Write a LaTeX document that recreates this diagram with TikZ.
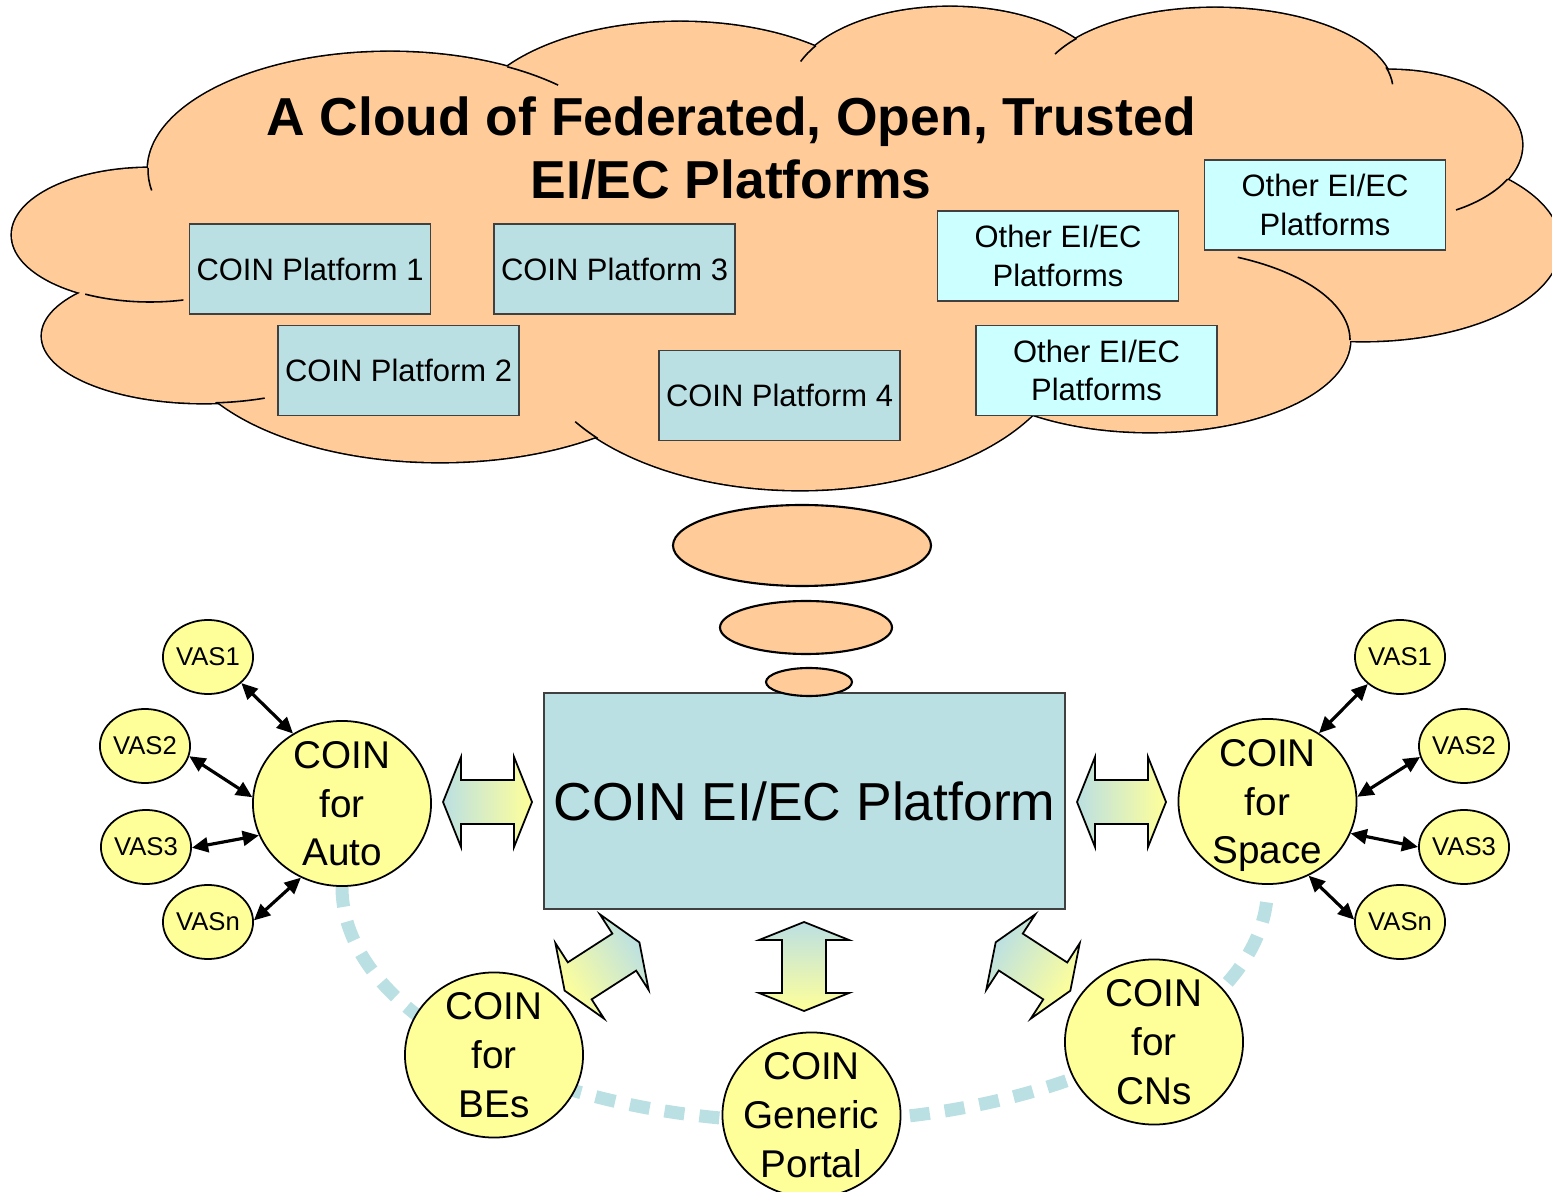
\documentclass[tikz,border=0pt]{standalone}
\usepackage{fontspec}
\setmainfont{Liberation Sans}
\usetikzlibrary{shapes.geometric,arrows.meta,backgrounds}

\definecolor{cloudorange}{HTML}{FFCC99}
\definecolor{coinblue}{HTML}{BBE0E3}
\definecolor{othercyan}{HTML}{CCFFFF}
\definecolor{coinyellow}{HTML}{FFFF99}

% 雲の円弧 (cx/cy/rx/ry)
\newcommand\cloudlobes{390/170/242/118, 680/130/213/108, 950/92/160/85,
  1215/90/178/82, 1390/145/132/75, 1363/245/197/96, 1150/340/200/92,
  800/340/268/150, 440/330/265/132, 204/336/162/67, 150/235/138/67}

\begin{document}
\begin{tikzpicture}[x=0.01cm, y=-0.01cm,
  lobe/.style={draw=black, line width=0.9pt},
  platbox/.style={draw=black!75, line width=0.5pt, fill=coinblue,
    minimum width=2.41cm, minimum height=0.9cm, inner sep=1pt,
    font=\fontsize{8.8}{11}\selectfont, align=center},
  otherbox/.style={platbox, fill=othercyan},
  vas/.style={ellipse, draw, line width=0.5pt, fill=coinyellow,
    minimum width=0.9cm, minimum height=0.74cm, inner sep=0pt,
    font=\fontsize{7.3}{9}\selectfont},
  coinball/.style={ellipse, draw, line width=0.5pt, fill=coinyellow,
    minimum width=1.78cm, minimum height=1.65cm, inner sep=0pt},
  coinlabel/.style={align=center, font=\fontsize{11}{13.9}\selectfont, inner sep=0pt,
    text depth=0pt},
  vasarrow/.style={{Triangle[length=4.6pt,width=4.2pt]}-{Triangle[length=4.6pt,width=4.2pt]},
    line width=0.9pt},
  dblarrowshape/.style={insert path={(-44.5,0) -- (-26.5,45) -- (-26.5,22) -- (26.5,22)
    -- (26.5,45) -- (44.5,0) -- (26.5,-45) -- (26.5,-22) -- (-26.5,-22) -- (-26.5,-45) -- cycle}},
  bigarrow/.style={draw=black, line width=0.5pt, left color=coinblue, right color=coinyellow},
  dasharc/.style={coinblue, line width=3.7pt, dash pattern=on 5.7pt off 4.3pt}
]
  \useasboundingbox (0,0) rectangle (1552,1192);

  % 雲
  \foreach \cx/\cy/\rx/\ry in \cloudlobes {
    \draw[lobe] (\cx,\cy) ellipse [x radius=\rx, y radius=\ry];
  }
  \foreach \cx/\cy/\rx/\ry in \cloudlobes {
    \fill[cloudorange] (\cx,\cy) ellipse [x radius=\rx, y radius=\ry];
  }
  \fill[cloudorange] (390,170) -- (680,130) -- (950,92) -- (1215,90) -- (1390,145)
    -- (1363,245) -- (1150,340) -- (800,340) -- (440,330) -- (204,336) -- (150,235) -- cycle;

  % 雲の折り目
  \foreach \cx/\cy/\rx/\ry/\ta/\tb in {390/170/242/118/181/170, 390/170/242/118/-61/-46,
      950/92/160/85/213/201, 1215/90/178/82/219/206, 1215/90/178/82/-16/-4,
      1390/145/132/75/27/60, 1150/340/200/92/0/-64, 800/340/268/150/139/147,
      204/336/162/67/86/68, 150/235/138/67/118/76} {
    \draw[line width=0.45pt] ({\cx+\rx*cos(\ta)},{\cy+\ry*sin(\ta)})
      arc[start angle=\ta, end angle=\tb, x radius=\rx, y radius=\ry];
  }

  % タイトル
  \node[font=\fontsize{15.2}{17.9}\selectfont\bfseries, align=center, anchor=north,
    inner sep=0pt] (title) at (731,96) {A Cloud of Federated, Open, Trusted\\EI/EC Platforms};

  % 雲の中のプラットフォーム
  \node[platbox] (p1) at (310,269) {COIN Platform 1};
  \node[platbox] (p2) at (398.5,370.5) {COIN Platform 2};
  \node[platbox] (p3) at (614.5,269) {COIN Platform 3};
  \node[platbox] (p4) at (779.5,395.5) {COIN Platform 4};
  \node[otherbox] (o1) at (1058,256) {Other EI/EC\\Platforms};
  \node[otherbox] (o2) at (1325,205) {Other EI/EC\\Platforms};
  \node[otherbox] (o3) at (1096.5,370.5) {Other EI/EC\\Platforms};

  % 吹き出しの楕円
  \draw[line width=0.6pt, fill=cloudorange] (802,545.5) ellipse [x radius=129, y radius=40.5];
  \draw[line width=0.6pt, fill=cloudorange] (806,627.5) ellipse [x radius=86, y radius=26.5];

  % 中央のプラットフォーム
  \node[draw=black!75, line width=0.5pt, fill=coinblue, minimum width=5.21cm,
    minimum height=2.16cm, inner sep=1pt, font=\fontsize{15.2}{18}\selectfont]
    (core) at (804.5,801) {COIN EI/EC Platform};
  \draw[line width=0.6pt, fill=cloudorange] (809,682) ellipse [x radius=43, y radius=14];

  % COIN の円
  \node[coinball, label={[coinlabel]center:{COIN\\for\\Auto}}] (auto) at (342,803.5) {};
  \node[coinball, label={[coinlabel]center:{COIN\\for\\Space}}] (space) at (1267.5,801.5) {};
  \node[coinball, label={[coinlabel]center:{COIN\\for\\BEs}}] (bes) at (494,1055) {};
  \node[coinball, label={[coinlabel]center:{COIN\\Generic\\Portal}}] (portal) at (811.5,1115) {};
  \node[coinball, label={[coinlabel]center:{COIN\\for\\CNs}}] (cns) at (1154,1042) {};

  % 点線の弧
  \begin{scope}[on background layer]
    \draw[dasharc] (auto.south) arc[start angle=180, end angle=0, x radius=462.75, y radius=235];
  \end{scope}

  % VAS
  \node[vas] (vl1) at (208,657) {VAS1};
  \node[vas] (vl2) at (145,746) {VAS2};
  \node[vas] (vl3) at (146,847) {VAS3};
  \node[vas] (vln) at (208,922) {VASn};
  \node[vas] (vr1) at (1400,657) {VAS1};
  \node[vas] (vr2) at (1464,746) {VAS2};
  \node[vas] (vr3) at (1464,847) {VAS3};
  \node[vas] (vrn) at (1400,922) {VASn};

  \draw[vasarrow] (vl1.-38.7) -- (auto.125.5);
  \draw[vasarrow] (vl2.-13.7) -- (auto.176);
  \draw[vasarrow] (vl3.-1.3) -- (auto.201.3);
  \draw[vasarrow] (vln.2.5) -- (auto.-119.5);
  \draw[vasarrow] (vr1.-140.9) -- (space.53.5);
  \draw[vasarrow] (vr2.-166) -- (space.3.8);
  \draw[vasarrow] (vr3.180) -- (space.-21.8);
  \draw[vasarrow] (vrn.177.5) -- (space.-61);

  % 太い両矢印
  \foreach \ax/\ay/\rot in {487.5/802/0, 1121.5/802/0, 804/966.5/-90,
      602/966.5/212.8, 1033/966.5/-33} {
    \begin{scope}[transform canvas={shift={(\ax,\ay)}, rotate=\rot}]
      \path[bigarrow, dblarrowshape];
    \end{scope}
  }
\end{tikzpicture}
\end{document}
